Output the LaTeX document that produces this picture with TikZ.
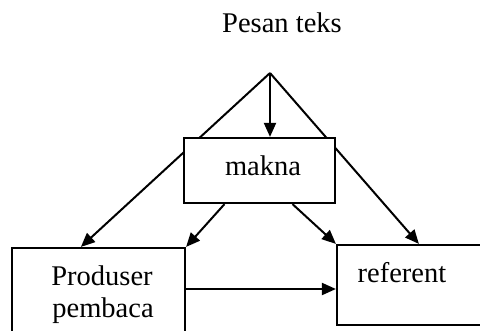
\documentclass[tikz,border=0pt]{standalone}
\usepackage{fontspec}
\setmainfont{Liberation Serif}
\usetikzlibrary{arrows.meta}
\begin{document}
\begin{tikzpicture}[x=1pt,y=-1pt,
  box/.style={draw,line width=2.2pt,fill=white,rectangle,inner sep=0pt},
  lbl/.style={inner sep=0pt,anchor=base,font=\fontsize{28.5}{32}\selectfont},
  conn/.style={line width=2pt,-{Triangle[length=14pt,width=12pt]}}]
\useasboundingbox (0,0) rectangle (480,330);
\clip (0,0) rectangle (480,330);
% boxes
\node[box,minimum width=173pt,minimum height=100pt] (prod) at (98.5,298) {};
\node[box,minimum width=160pt,minimum height=80pt] (ref) at (417,285) {};
\coordinate (apex) at (270,73);
\node[lbl] (title) at (282,32) {Pesan teks};
% lines from apex, passing behind the makna box
\draw[conn] (apex) -- ([xshift=70pt]prod.north west);
\draw[conn] (apex) -- ([xshift=83pt]ref.north west);
\node[box,minimum width=151pt,minimum height=65pt] (makna) at (259.5,170.5) {};
\node[lbl] (maknat) at (263,175) {makna};
\draw[conn] (apex) -- ([xshift=10.5pt]makna.north);
\draw[conn] ([xshift=-35pt]makna.south) -- (prod.north east);
\draw[conn] ([xshift=33pt]makna.south) -- (ref.north west);
\draw[conn] (prod.east |- 0,289) -- (ref.west |- 0,289);
% labels
\node[lbl] (prodt1) at (102,285) {Produser};
\node[lbl] (prodt2) at (103,317) {pembaca};
\node[lbl] (reft) at (402,282) {referent};
\end{tikzpicture}
\end{document}
